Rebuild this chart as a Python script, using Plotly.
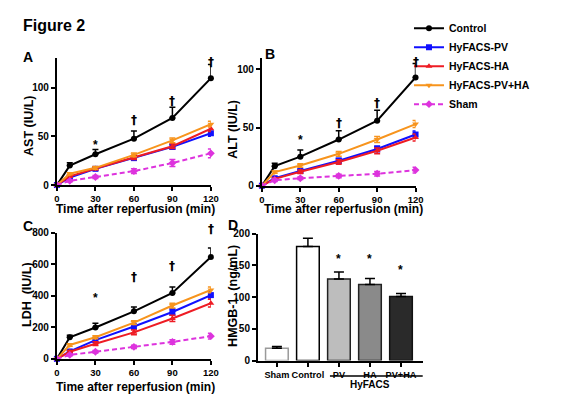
import plotly.graph_objects as go

# Time points (min after reperfusion)
time_min = [0, 10, 30, 60, 90, 120]

# Panel A - AST (IU/L)
ast_control = [0, 20, 31.7, 47.7, 69, 110]
ast_pv = [0, 7.7, 16.7, 27.7, 39.3, 53.3]
ast_ha = [0, 9, 17, 28.3, 40, 58]
ast_pvha = [0, 11.7, 17.7, 31, 46, 62.7]
ast_sham = [0, 4.3, 8.3, 14.3, 22.7, 32.7]
ast_control_err = [0, 3, 5, 8, 11, 14]
ast_pv_err = [0, 1, 1.5, 2, 2.5, 3]
ast_ha_err = [0, 1, 1.5, 2, 2.5, 3]
ast_pvha_err = [0, 1, 1.5, 2, 2.5, 3]
ast_sham_err = [0, 1, 1.5, 2.5, 3.5, 4.5]

# Panel B - ALT (IU/L)
alt_control = [0, 16.8, 25, 39.7, 55.9, 93]
alt_pv = [0, 6.4, 12.6, 21.5, 31.6, 44]
alt_ha = [0, 5.9, 12, 20.4, 30, 41.5]
alt_pvha = [0, 11.7, 17.3, 27.4, 39.7, 53]
alt_sham = [0, 4.7, 6.4, 8.4, 10.3, 13.4]
alt_control_err = [0, 2.5, 5.6, 7.5, 9, 12]
alt_pv_err = [0, 1, 1.5, 2, 2.5, 3]
alt_ha_err = [0, 1, 1.5, 2, 2.5, 3]
alt_pvha_err = [0, 1, 1.5, 2, 2.5, 3]
alt_sham_err = [0, 1, 1, 1.5, 2, 2.5]

# Panel C - LDH (IU/L)
ldh_control = [0, 137, 199, 301, 418, 646]
ldh_pv = [0, 47, 119, 205, 297, 404]
ldh_ha = [0, 45, 96, 168, 256, 353]
ldh_pvha = [0, 88, 137, 230, 338, 437]
ldh_sham = [0, 25, 45, 76, 107, 144]
ldh_control_err = [0, 12, 27, 27, 37, 57]
ldh_pv_err = [0, 8, 12, 15, 20, 25]
ldh_ha_err = [0, 8, 12, 15, 20, 25]
ldh_pvha_err = [0, 8, 10, 12, 15, 18]
ldh_sham_err = [0, 5, 8, 10, 14, 18]

# Panel D - HMGB-1 (ng/mL)
hmgb_groups = ['Sham', 'Control', 'PV', 'HA', 'PV+HA']
hmgb_values = [19.4, 179.6, 128.6, 119.9, 101]
hmgb_err = [2.6, 13, 10.7, 9.2, 4.6]
hmgb_fill = ['white', 'white', '#bdbdbd', '#8a8a8a', '#2a2a2a']
hmgb_edge = ['#9a9a9a', 'black', '#222222', '#222222', '#111111']

# significance marks
sig_times = [30, 60, 90, 120]
sig_text = ['*', '†', '†', '†']
sig_ast_y = [54, 76, 96, 136]
sig_alt_y = [49.4, 62, 79, 113.7]
sig_ldh_y = [349, 462, 591, 820]
sig_hmgb_groups = ['PV', 'HA', 'PV+HA']
sig_hmgb_y = [165, 165, 148]

names = ['Control', 'HyFACS-PV', 'HyFACS-HA', 'HyFACS-PV+HA', 'Sham']
colors = ['black', '#1010ff', '#ee1c24', '#f7941d', '#dd33dd']
symbols = ['circle', 'square', 'triangle-up', 'triangle-down', 'diamond']
dashes = ['solid', 'solid', 'solid', 'solid', '5px,3px']

FONT = 'Arial, Liberation Sans, sans-serif'

# panel placement (paper fractions) and y ranges
dom_a = dict(x=[55 / 568, 212 / 568], y=[0.559, 0.8725], ymax=131)
dom_b = dict(x=[264 / 568, 420.7 / 568], y=[0.5574, 0.8725], ymax=110)
dom_c = dict(x=[55 / 568, 212 / 568], y=[0.1309, 0.4418], ymax=800)
dom_d = dict(x=[260 / 568, 428 / 568], y=[0.1268, 0.4395], ymax=200)

fig = go.Figure()


def add_lines(xref, yref, values, errors, show_legend):
    for i, (name, vals, errs) in enumerate(zip(names, values, errors)):
        minus = [0] * len(errs) if name == 'Control' else errs
        fig.add_trace(go.Scatter(
            x=time_min, y=vals, mode='lines+markers', name=name,
            line=dict(color=colors[i], width=2, dash=dashes[i]),
            marker=dict(symbol=symbols[i], size=6, color=colors[i]),
            error_y=dict(type='data', symmetric=False, array=errs, arrayminus=minus,
                         color=colors[i], thickness=1.5, width=3),
            xaxis=xref, yaxis=yref, showlegend=show_legend, cliponaxis=False))


add_lines('x', 'y', [ast_control, ast_pv, ast_ha, ast_pvha, ast_sham],
          [ast_control_err, ast_pv_err, ast_ha_err, ast_pvha_err, ast_sham_err], True)
add_lines('x2', 'y2', [alt_control, alt_pv, alt_ha, alt_pvha, alt_sham],
          [alt_control_err, alt_pv_err, alt_ha_err, alt_pvha_err, alt_sham_err], False)
add_lines('x3', 'y3', [ldh_control, ldh_pv, ldh_ha, ldh_pvha, ldh_sham],
          [ldh_control_err, ldh_pv_err, ldh_ha_err, ldh_pvha_err, ldh_sham_err], False)

fig.add_trace(go.Bar(
    x=hmgb_groups, y=hmgb_values, width=0.73,
    marker=dict(color=hmgb_fill, line=dict(color=hmgb_edge, width=1.5)),
    error_y=dict(type='data', symmetric=False, array=hmgb_err, arrayminus=[0] * len(hmgb_err),
                 color='black', thickness=1.5, width=5),
    xaxis='x4', yaxis='y4', showlegend=False, cliponaxis=False))

axis_style = dict(showline=True, linecolor='black', linewidth=2, ticks='outside', ticklen=4,
                  tickwidth=2, tickcolor='black', showgrid=False, zeroline=False,
                  tickfont=dict(size=10, family=FONT, color='black', weight='bold'))
time_ticks = dict(range=[0, 120], tickvals=[0, 30, 60, 90, 120])

fig.update_layout(
    width=568, height=418, margin=dict(l=0, r=0, t=0, b=0), autosize=False,
    paper_bgcolor='white', plot_bgcolor='white', barmode='overlay',
    font=dict(family=FONT, color='black'),
    xaxis=dict(domain=dom_a['x'], anchor='y', **time_ticks, **axis_style),
    yaxis=dict(domain=dom_a['y'], anchor='x', range=[0, dom_a['ymax']], tickvals=[0, 50, 100], **axis_style),
    xaxis2=dict(domain=dom_b['x'], anchor='y2', **time_ticks, **axis_style),
    yaxis2=dict(domain=dom_b['y'], anchor='x2', range=[0, dom_b['ymax']], tickvals=[0, 50, 100], **axis_style),
    xaxis3=dict(domain=dom_c['x'], anchor='y3', **time_ticks, **axis_style),
    yaxis3=dict(domain=dom_c['y'], anchor='x3', range=[0, dom_c['ymax']], dtick=200, **axis_style),
    xaxis4=dict(domain=dom_d['x'], anchor='y4', range=[-0.61, 4.7], tickangle=0, **axis_style),
    yaxis4=dict(domain=dom_d['y'], anchor='x4', range=[0, dom_d['ymax']], dtick=50, **axis_style),
    legend=dict(x=414 / 568, y=0.981, xanchor='left', yanchor='top', tracegroupgap=0,
                font=dict(size=10.5, family=FONT, color='black', weight='bold'),
                bgcolor='rgba(0,0,0,0)'),
)
# time axes: slightly smaller tick labels, bar axis smaller still
fig.update_xaxes(tickfont_size=9.5)
fig.update_xaxes(tickfont_size=9.2, selector=dict(anchor='y4'))

bold = dict(family=FONT, color='black', weight='bold')
ann = []
# title and panel letters
ann.append(dict(text='Figure 2', x=18 / 568, y=0.952, xanchor='left', yanchor='middle',
                font=dict(size=16, **bold)))
for letter, px_, py_ in [('A', 25, 52), ('B', 272, 49), ('C', 25, 227), ('D', 235, 225)]:
    ann.append(dict(text=letter, x=px_ / 568, y=(418 - py_) / 418, xanchor='center', yanchor='middle',
                    font=dict(size=14, **bold)))
# axis titles
for txt, px_, py_ in [('AST (IU/L)', 27, 123), ('ALT (IU/L)', 235, 127),
                      ('LDH  (IU/L)', 25, 297), ('HMGB-1  (ng/mL)', 235, 298)]:
    ann.append(dict(text=txt, x=px_ / 568, y=(418 - py_) / 418, textangle=-90,
                    xanchor='center', yanchor='middle', font=dict(size=12.5, **bold)))
for px_, py_ in [(134.7, 209), (347, 209), (134.7, 392)]:
    ann.append(dict(text='Time after reperfusion (min)', x=px_ / 568, y=(418 - py_) / 418,
                    xanchor='center', yanchor='middle', font=dict(size=12, **bold)))


def to_paper(dom, v):
    return dom['y'][0] + v / dom['ymax'] * (dom['y'][1] - dom['y'][0])


# significance marks on line panels (paper y so marks above the axis top still show)
for xr, dom, ys in [('x', dom_a, sig_ast_y), ('x2', dom_b, sig_alt_y), ('x3', dom_c, sig_ldh_y)]:
    for t, s, yy in zip(sig_times, sig_text, ys):
        if s == '*':
            f = dict(size=12, **bold)
        else:
            f = dict(size=12, family='DejaVu Sans', color='black', weight='bold')
        ann.append(dict(text=s, x=t, y=to_paper(dom, yy), xref=xr, yref='paper',
                        yshift=-3 if s == '*' else 0, font=f))
for g, yy in zip(sig_hmgb_groups, sig_hmgb_y):
    ann.append(dict(text='*', x=g, y=to_paper(dom_d, yy), xref='x4', yref='paper', yshift=-3,
                    font=dict(size=12, **bold)))
# HyFACS bracket label
ann.append(dict(text='HyFACS', x=3, y=(418 - 390) / 418, xref='x4', yref='paper',
                xanchor='center', yanchor='middle', font=dict(size=10, **bold)))
for a in ann:
    a.setdefault('showarrow', False)
    a.setdefault('xref', 'paper')
    a.setdefault('yref', 'paper')
fig.update_layout(annotations=ann)

fig.add_shape(type='line', xref='x4', yref='paper', x0=1.71, x1=4.77,
              y0=(418 - 381) / 418, y1=(418 - 381) / 418, line=dict(color='black', width=1.5))

fig.write_html("out.html", config={'displayModeBar': False},
               post_script="document.body.style.margin = '0px';")
